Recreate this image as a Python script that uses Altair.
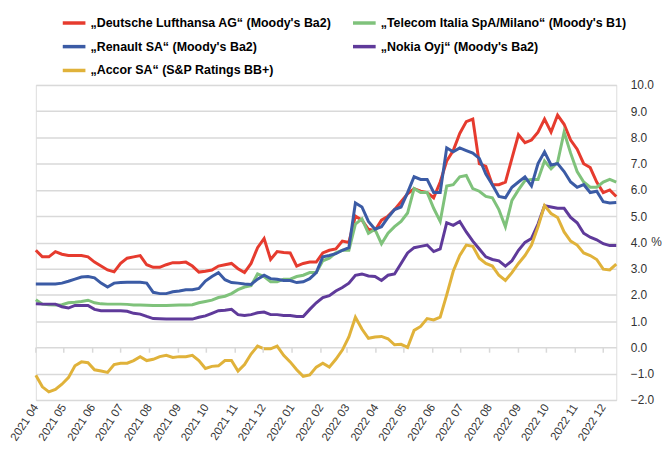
import altair as alt
import pandas as pd

# weekly observation dates (every 7 days from 2021-04-01)
dates = pd.date_range("2021-04-01", periods=90, freq="7D").strftime("%Y-%m-%d").tolist()

series_names = [
    "„Deutsche Lufthansa AG“ (Moody's Ba2)",
    "„Telecom Italia SpA/Milano“ (Moody's B1)",
    "„Renault SA“ (Moody's Ba2)",
    "„Nokia Oyj“ (Moody's Ba2)",
    "„Accor SA“ (S&P Ratings BB+)",
]
series_colors = ["#e63b2e", "#7fc27b", "#3b5ba5", "#5f3a9a", "#e0b23a"]

lufthansa = [
    3.70, 3.45, 3.45, 3.65, 3.55, 3.50, 3.50, 3.50, 3.45, 3.25,
    3.10, 2.95, 2.88, 3.20, 3.40, 3.45, 3.50, 3.15, 3.05, 3.05,
    3.15, 3.23, 3.23, 3.25, 3.10, 2.87, 2.90, 2.95, 3.10, 3.15,
    3.20, 3.00, 2.85, 3.20, 3.80, 4.15, 3.35, 3.65, 3.62, 3.60,
    3.10, 3.20, 3.25, 3.25, 3.60, 3.70, 3.75, 4.05, 4.00, 5.00,
    4.85, 4.50, 4.45, 4.85, 5.00, 5.25, 5.55, 5.85, 6.05, 5.95,
    5.90, 5.70, 6.30, 7.10, 7.50, 8.15, 8.60, 8.70, 7.00, 6.90,
    6.20, 6.20, 6.30, 7.20, 8.10, 7.80, 7.90, 8.20, 8.70, 8.20,
    8.85, 8.50, 7.90, 7.55, 7.00, 6.85, 6.30, 5.90, 6.00, 5.75,
]
telecom = [
    1.82, 1.65, 1.63, 1.62, 1.63, 1.70, 1.72, 1.75, 1.80, 1.70,
    1.66, 1.65, 1.65, 1.65, 1.64, 1.62, 1.62, 1.61, 1.60, 1.60,
    1.60, 1.61, 1.62, 1.62, 1.63, 1.70, 1.75, 1.80, 1.90, 1.95,
    2.05, 2.20, 2.30, 2.35, 2.80, 2.70, 2.50, 2.50, 2.60, 2.60,
    2.70, 2.75, 2.85, 2.85, 3.30, 3.40, 3.60, 3.70, 3.70, 4.70,
    4.90, 4.35, 4.50, 3.95, 4.35, 4.60, 4.80, 5.12, 6.05, 5.90,
    5.90, 5.30, 4.80, 6.15, 6.20, 6.50, 6.55, 6.05, 5.95, 5.75,
    5.70, 5.25, 4.60, 5.60, 6.00, 6.35, 6.40, 6.40, 7.10, 6.80,
    7.05, 8.20, 7.40, 6.70, 6.30, 6.10, 6.10, 6.30, 6.40, 6.30,
]
renault = [
    2.42, 2.42, 2.42, 2.42, 2.45, 2.52, 2.60, 2.68, 2.70, 2.65,
    2.45, 2.30, 2.45, 2.47, 2.48, 2.48, 2.48, 2.45, 2.10, 2.05,
    2.05, 2.12, 2.15, 2.20, 2.20, 2.25, 2.53, 2.70, 2.85, 2.58,
    2.47, 2.45, 2.42, 2.40, 2.60, 2.75, 2.62, 2.60, 2.55, 2.55,
    2.47, 2.50, 2.62, 2.85, 3.45, 3.50, 3.57, 3.70, 3.80, 5.50,
    5.35, 4.80, 4.50, 4.60, 4.95, 5.25, 5.35, 5.90, 6.50, 6.40,
    6.40, 5.90, 5.90, 7.60, 7.45, 7.60, 7.50, 7.40, 7.20, 6.60,
    6.20, 5.75, 5.70, 6.10, 6.30, 6.50, 6.15, 7.00, 7.45, 6.95,
    7.00, 6.70, 6.30, 6.10, 6.20, 5.90, 5.95, 5.55, 5.50, 5.52,
]
nokia = [
    1.66, 1.65, 1.65, 1.65, 1.55, 1.50, 1.60, 1.60, 1.60, 1.45,
    1.40, 1.40, 1.40, 1.40, 1.38, 1.30, 1.27, 1.18, 1.10, 1.09,
    1.08, 1.08, 1.08, 1.08, 1.08, 1.15, 1.20, 1.30, 1.40, 1.42,
    1.45, 1.25, 1.22, 1.25, 1.32, 1.35, 1.25, 1.25, 1.22, 1.22,
    1.18, 1.18, 1.45, 1.70, 1.90, 1.97, 2.15, 2.28, 2.45, 2.75,
    2.80, 2.72, 2.70, 2.55, 2.75, 2.80, 3.20, 3.60, 3.80, 3.85,
    3.90, 3.65, 3.75, 4.75, 4.65, 4.80, 4.40, 4.05, 3.75, 3.45,
    3.35, 3.30, 3.10, 3.30, 3.70, 4.00, 4.15, 4.70, 5.40, 5.35,
    5.30, 5.30, 4.95, 4.75, 4.35, 4.20, 4.10, 3.95, 3.88, 3.88,
]
accor = [
    -1.06, -1.50, -1.69, -1.60, -1.40, -1.15, -0.70, -0.55, -0.58, -0.85,
    -0.90, -0.95, -0.65, -0.60, -0.60, -0.50, -0.35, -0.50, -0.45, -0.35,
    -0.30, -0.38, -0.35, -0.35, -0.30, -0.50, -0.80, -0.72, -0.70, -0.50,
    -0.50, -0.90, -0.65, -0.25, 0.05, -0.05, -0.05, 0.05, -0.30, -0.55,
    -0.85, -1.10, -1.05, -0.75, -0.60, -0.75, -0.45, -0.10, 0.40, 1.15,
    0.70, 0.35, 0.40, 0.42, 0.33, 0.10, 0.12, 0.00, 0.65, 0.80,
    1.10, 1.05, 1.15, 2.00, 2.90, 3.50, 3.90, 3.85, 3.40, 3.20,
    3.10, 2.75, 2.55, 2.85, 3.20, 3.50, 3.90, 4.60, 5.40, 5.10,
    4.95, 4.40, 4.05, 3.90, 3.60, 3.50, 3.35, 2.98, 2.95, 3.17,
]

month_ticks = [
    "2021-04-01", "2021-05-01", "2021-06-01", "2021-07-01", "2021-08-01",
    "2021-09-01", "2021-10-01", "2021-11-01", "2021-12-01", "2022-01-01",
    "2022-02-01", "2022-03-01", "2022-04-01", "2022-05-01", "2022-06-01",
    "2022-07-01", "2022-08-01", "2022-09-01", "2022-10-01", "2022-11-01",
    "2022-12-01",
]
y_ticks = [-2, -1, 0, 1, 2, 3, 4, 5, 6, 7, 8, 9, 10]

all_values = [lufthansa, telecom, renault, nokia, accor]
rows = []
for name, vals in zip(series_names, all_values):
    for d, v in zip(dates, vals):
        rows.append({"date": d, "value": v, "series": name})
df = pd.DataFrame(rows)
ticks_df = pd.DataFrame({"date": month_ticks})

x_dom = [alt.DateTime(year=2021, month=4, date=1, utc=True),
         alt.DateTime(year=2022, month=12, date=15, utc=True)]
x_scale = alt.Scale(type="utc", domain=x_dom, nice=False)
y_scale = alt.Scale(domain=[-2, 10], nice=False, zero=False)

tick_values = [alt.DateTime(year=int(t[:4]), month=int(t[5:7]), date=1, utc=True) for t in month_ticks]

x_axis = alt.Axis(values=tick_values, format="%Y %m", labelAngle=-57,
                  labelAlign="right", labelBaseline="middle",
                  labelFont="Liberation Sans", labelFontSize=11.5,
                  labelColor="#333333", labelPadding=5,
                  labelOverlap=False, labelFlush=False, labelBound=False,
                  ticks=False, domain=False, grid=False)
y_axis = alt.Axis(orient="right", values=y_ticks, format=".1f",
                  labelOverlap=False,
                  labelFont="Liberation Sans", labelFontSize=12,
                  labelColor="#333333", labelPadding=14, labelAlign="left",
                  ticks=False, domain=False, grid=True,
                  gridColor="#d9d9d9", gridWidth=1.5,
                  titleAngle=0, titleX=40, titleY=158,
                  titleAlign="center", titleBaseline="middle",
                  titleFont="Liberation Sans", titleFontSize=12,
                  titleFontWeight="normal", titleColor="#333333")

lines = alt.Chart(df).mark_line(strokeWidth=3, interpolate="linear").encode(
    x=alt.X("date:T", scale=x_scale, title=None, axis=x_axis),
    y=alt.Y("value:Q", scale=y_scale, title="%", axis=y_axis),
    color=alt.Color("series:N",
                    scale=alt.Scale(domain=series_names, range=series_colors),
                    legend=alt.Legend(title=None, orient="none", legendX=25, legendY=-76,
                                      columns=2, direction="horizontal",
                                      columnPadding=14, rowPadding=3,
                                      symbolType="stroke", symbolSize=520,
                                      symbolStrokeWidth=3.5,
                                      labelFont="Liberation Sans",
                                      labelFontWeight="bold", labelFontSize=12.5,
                                      labelColor="#000000", labelOffset=3,
                                      labelLimit=400)),
    detail="series:N",
)

ticks = alt.Chart(ticks_df).mark_rule(color="#d9d9d9", strokeWidth=1.5).encode(
    x=alt.X("date:T", scale=x_scale, title=None, axis=x_axis),
    y=alt.YDatum(0, scale=y_scale, title="%", axis=y_axis),
    y2=alt.datum(-0.2),
)

chart = alt.layer(lines, ticks).properties(
    width=584, height=317,
    autosize=alt.AutoSizeParams(type="none"),
    padding={"left": 28, "top": 76, "right": 46, "bottom": 50},
).configure_view(stroke=None).configure(background="white")

chart.save("out.html", embed_options={"renderer": "svg", "actions": False})
